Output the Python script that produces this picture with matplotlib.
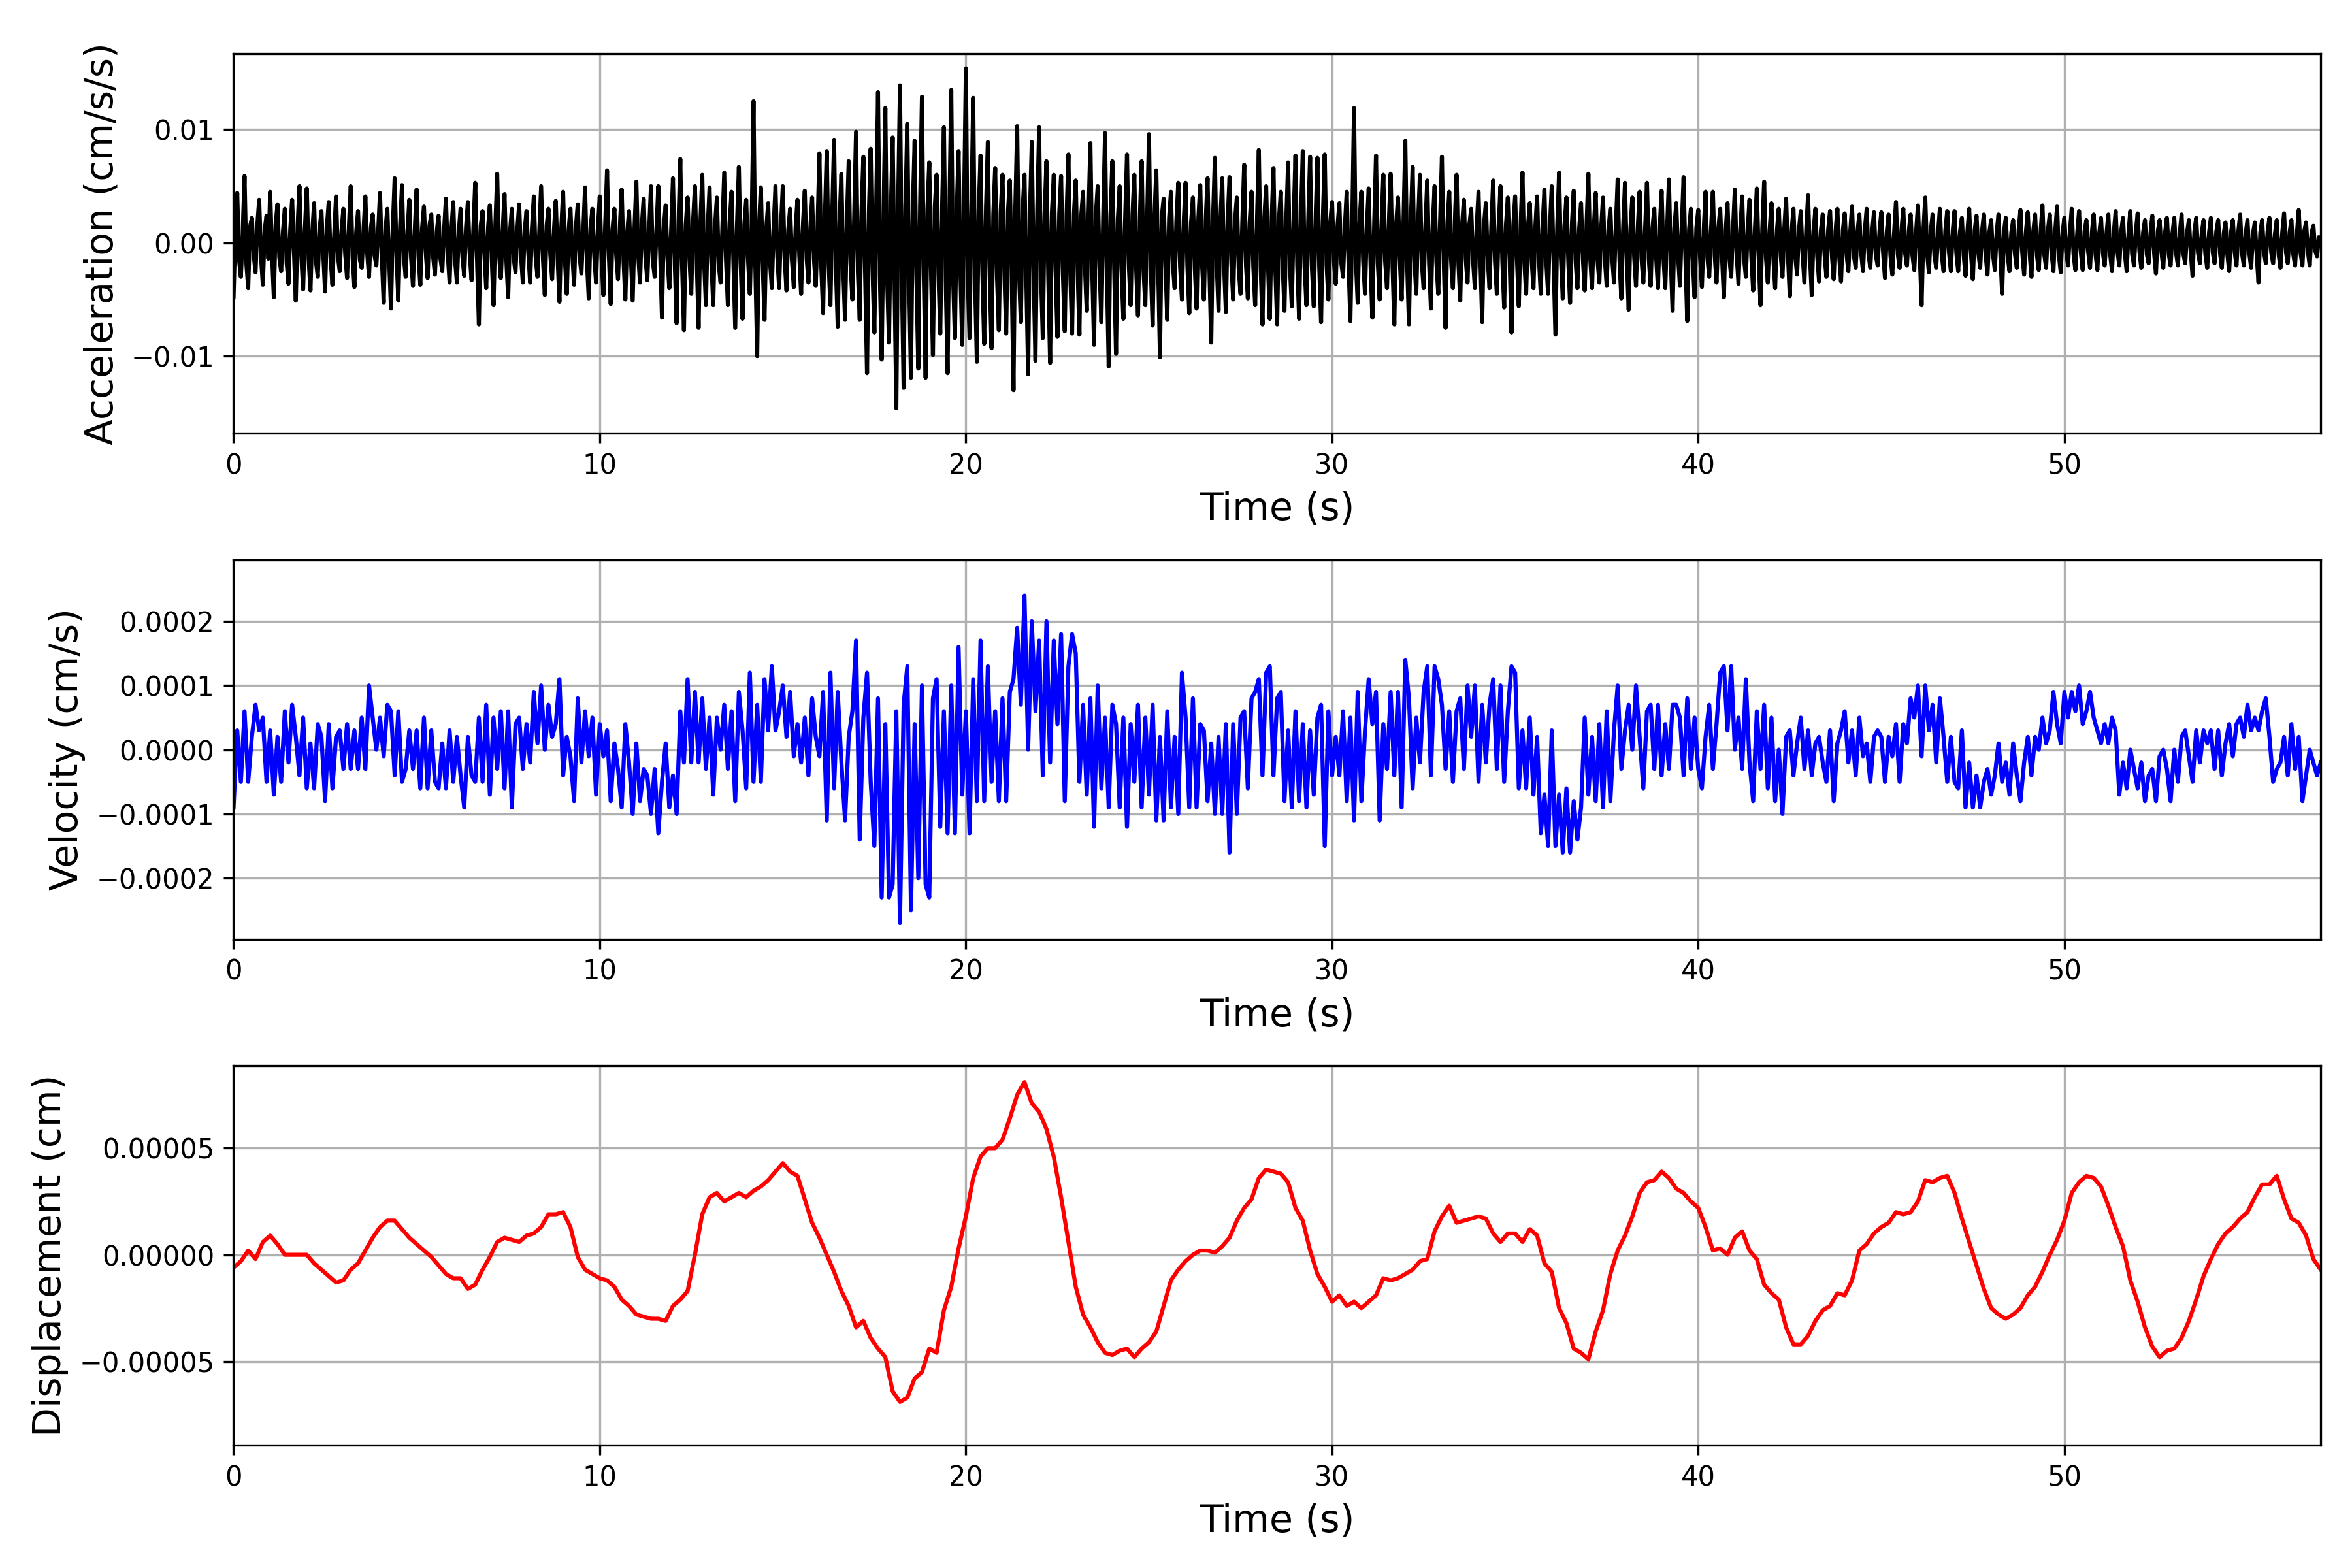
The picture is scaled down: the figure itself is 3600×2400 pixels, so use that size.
import matplotlib
matplotlib.use('Agg')
import matplotlib.pyplot as plt
import numpy as np

# sample spacing of the series (s)
dt_acc = 0.05
dt_vel = 0.1
dt_disp = 0.2

# acceleration, units of 1e-4 cm/s/s, one row per second
acc_e4 = [
    -48, 12, 44, -15, -30, 9, 59, -18, -40, 14, 22, -10, -26, 16, 38, -12, -37, 11, 24, -14,
    45, -9, -48, 16, 34, -13, -25, 10, 30, -17, -36, 12, 38, -8, -51, 15, 50, -11, -41, 13,
    48, -14, -42, 9, 35, -16, -30, 12, 28, -10, -43, 15, 36, -13, -37, 8, 41, -12, -25, 11,
    30, -10, -31, 14, 50, -12, -39, 9, 28, -15, -22, 11, 41, -9, -30, 13, 25, -11, -20, 10,
    44, -13, -53, 12, 30, -16, -58, 14, 57, -10, -51, 15, 51, -12, -30, 9, 38, -14, -38, 12,
    47, -11, -37, 13, 32, -9, -31, 15, 25, -12, -28, 10, 24, -14, -25, 11, 39, -10, -35, 12,
    36, -15, -35, 9, 30, -12, -29, 14, 36, -10, -33, 12, 53, -16, -72, 15, 28, -9, -40, 13,
    33, -12, -55, 14, 61, -10, -31, 11, 43, -15, -48, 9, 30, -13, -26, 12, 34, -11, -35, 10,
    28, -9, -35, 13, 41, -12, -30, 10, 50, -14, -46, 15, 30, -10, -32, 11, 37, -13, -52, 12,
    45, -15, -45, 11, 30, -9, -37, 14, 34, -12, -27, 10, 49, -16, -49, 13, 30, -11, -35, 12,
    41, -13, -46, 16, 64, -11, -54, 12, 30, -10, -32, 14, 47, -15, -50, 9, 28, -12, -51, 13,
    54, -10, -35, 15, 39, -13, -33, 11, 50, -16, -30, 12, 50, -9, -66, 14, 33, -13, -40, 10,
    57, -18, -71, 15, 74, -20, -77, 16, 40, -14, -45, 19, 50, -15, -75, 18, 60, -16, -55, 14,
    49, -17, -55, 15, 40, -19, -35, 14, 62, -16, -55, 18, 45, -15, -75, 17, 67, -19, -67, 16,
    38, -14, -45, 18, 125, -20, -100, 15, 49, -17, -68, 13, 35, -16, -40, 14, 50, -12, -40, 15,
    50, -14, -42, 12, 30, -15, -39, 13, 38, -11, -45, 16, 46, -13, -35, 12, 40, -14, -38, 15,
    79, -20, -62, 22, 81, -18, -55, 25, 91, -21, -74, 19, 61, -24, -68, 20, 72, -18, -50, 23,
    98, -25, -68, 28, 76, -30, -115, 26, 83, -24, -79, 31, 133, -28, -103, 25, 119, -32, -88, 27,
    93, -30, -146, 35, 139, -28, -128, 32, 105, -34, -119, 29, 90, -31, -111, 33, 129, -27, -119, 30,
    71, -29, -99, 31, 60, -26, -80, 30, 102, -33, -115, 28, 135, -30, -84, 27, 81, -25, -90, 32,
    154, -30, -84, 27, 128, -33, -105, 29, 77, -26, -89, 31, 89, -28, -93, 25, 66, -30, -77, 27,
    60, -24, -80, 28, 55, -27, -130, 30, 103, -25, -70, 29, 60, -31, -116, 26, 89, -28, -104, 30,
    102, -27, -84, 25, 72, -29, -106, 27, 60, -24, -83, 26, 59, -28, -78, 24, 78, -26, -80, 25,
    55, -22, -81, 24, 45, -20, -60, 26, 88, -23, -90, 25, 50, -21, -70, 22, 97, -26, -109, 24,
    72, -23, -98, 21, 50, -24, -67, 22, 78, -20, -55, 25, 60, -22, -64, 21, 72, -24, -55, 20,
    96, -22, -73, 24, 64, -21, -101, 23, 39, -19, -68, 22, 45, -18, -40, 20, 53, -21, -50, 19,
    53, -20, -62, 18, 40, -21, -58, 22, 51, -19, -50, 20, 57, -22, -88, 21, 75, -18, -60, 20,
    57, -19, -61, 21, 58, -18, -50, 20, 40, -22, -45, 19, 69, -20, -49, 18, 45, -21, -55, 20,
    82, -21, -72, 22, 50, -19, -67, 20, 66, -22, -72, 21, 45, -18, -60, 20, 71, -21, -56, 19,
    77, -20, -67, 22, 81, -21, -55, 19, 76, -22, -56, 20, 75, -21, -70, 22, 78, -19, -50, 18,
    36, -16, -36, 15, 35, -17, -30, 14, 45, -18, -69, 16, 119, -15, -53, 17, 45, -16, -45, 15,
    48, -17, -66, 16, 77, -18, -50, 15, 60, -16, -40, 17, 61, -18, -72, 16, 40, -15, -50, 17,
    90, -18, -72, 17, 67, -16, -45, 18, 60, -17, -40, 15, 55, -18, -58, 16, 50, -17, -45, 18,
    76, -16, -75, 17, 45, -15, -40, 16, 60, -17, -51, 15, 38, -14, -35, 16, 30, -15, -40, 14,
    45, -15, -70, 16, 35, -14, -40, 15, 55, -16, -45, 14, 50, -15, -57, 16, 40, -14, -79, 15,
    41, -14, -56, 15, 62, -16, -45, 14, 35, -15, -40, 13, 41, -14, -45, 15, 47, -16, -45, 14,
    50, -15, -81, 14, 62, -13, -49, 15, 40, -14, -53, 16, 46, -15, -40, 13, 35, -14, -42, 15,
    61, -13, -40, 14, 44, -15, -35, 13, 40, -14, -38, 12, 30, -13, -35, 14, 56, -15, -49, 13,
    53, -14, -59, 13, 40, -12, -38, 14, 45, -13, -35, 12, 53, -14, -38, 13, 30, -12, -40, 14,
    46, -13, -40, 12, 56, -14, -60, 13, 35, -12, -38, 14, 58, -13, -69, 12, 30, -14, -48, 13,
    29, -12, -39, 11, 45, -13, -30, 12, 45, -11, -35, 13, 30, -12, -48, 11, 35, -13, -30, 12,
    47, -11, -36, 12, 41, -13, -30, 11, 38, -12, -42, 13, 48, -11, -55, 12, 54, -13, -35, 11,
    35, -12, -40, 11, 30, -10, -30, 12, 39, -11, -47, 10, 30, -12, -28, 11, 28, -10, -35, 12,
    42, -11, -46, 10, 30, -12, -34, 11, 25, -10, -30, 12, 28, -11, -32, 10, 30, -12, -34, 11,
    26, -10, -25, 9, 32, -11, -22, 10, 25, -9, -25, 11, 30, -10, -22, 9, 27, -11, -20, 10,
    27, -9, -31, 10, 25, -11, -28, 9, 36, -10, -22, 11, 30, -9, -20, 10, 25, -11, -24, 9,
    33, -10, -55, 11, 40, -9, -26, 10, 25, -11, -22, 9, 30, -10, -25, 11, 28, -9, -25, 10,
    28, -9, -25, 10, 22, -11, -29, 9, 30, -10, -32, 11, 24, -9, -22, 10, 25, -11, -28, 9,
    20, -10, -24, 9, 25, -9, -45, 10, 22, -11, -25, 9, 20, -10, -22, 11, 29, -9, -28, 10,
    27, -9, -30, 10, 25, -11, -24, 9, 33, -10, -22, 11, 25, -9, -25, 10, 32, -11, -26, 9,
    22, -8, -20, 9, 30, -10, -24, 8, 28, -9, -24, 10, 20, -8, -22, 9, 25, -10, -24, 8,
    22, -9, -20, 8, 25, -10, -25, 9, 28, -8, -20, 10, 22, -9, -25, 8, 28, -10, -20, 9,
    26, -8, -22, 9, 20, -10, -18, 8, 24, -9, -27, 10, 20, -8, -22, 9, 22, -10, -20, 8,
    22, -9, -20, 8, 25, -10, -18, 9, 20, -8, -29, 10, 22, -9, -18, 8, 20, -10, -22, 9,
    22, -8, -18, 10, 20, -9, -22, 8, 18, -10, -25, 9, 20, -8, -20, 10, 25, -9, -20, 8,
    20, -9, -22, 8, 18, -10, -35, 9, 20, -8, -18, 10, 22, -9, -18, 8, 20, -10, -22, 9,
    26, -8, -18, 9, 20, -10, -20, 8, 29, -9, -20, 10, 18, -8, -20, 9, 15, -7, -12, 5,
    2,
]

# velocity, units of 1e-5 cm/s, one row per second
vel_e5 = [
    -9, 3, -5, 6, -5, 2, 7, 3, 5, -5,
    3, -7, 2, -5, 6, -2, 7, 2, -4, 5,
    -6, 1, -6, 4, 2, -8, 4, -6, 2, 3,
    -3, 4, -3, 3, -3, 5, -3, 10, 5, 0,
    5, -1, 7, 6, -4, 6, -5, -3, 3, -3,
    3, -6, 5, -6, 3, -5, -6, 1, -6, 3,
    -5, 2, -4, -9, 2, -4, -5, 5, -5, 7,
    -7, 5, -3, 6, -6, 6, -9, 4, 5, -3,
    4, -2, 9, 1, 10, 0, 7, 2, 4, 11,
    -4, 2, -1, -8, 8, -2, 6, -1, 5, -7,
    4, -1, 3, -8, 1, -3, -9, 4, -2, -10,
    1, -8, -3, -4, -10, -3, -13, -5, 1, -9,
    -4, -10, 6, -2, 11, -2, 9, -2, 8, -3,
    5, -7, 5, 0, 7, -3, 6, -8, 9, 3,
    -6, 12, -5, 7, -5, 11, 3, 13, 3, 6,
    10, 2, 9, -1, 4, -2, 5, -4, 8, 2,
    -1, 9, -11, 12, -6, 9, -2, -11, 2, 6,
    17, -14, 5, 12, -5, -15, 8, -23, 4, -23,
    -21, 6, -27, 7, 13, -25, 4, -20, 10, -21,
    -23, 8, 11, -12, 6, -13, 10, -13, 16, -7,
    6, -13, 11, -8, 17, -8, 13, -5, 6, -8,
    8, -8, 9, 11, 19, 7, 24, 0, 20, 6,
    17, -4, 20, -2, 17, 4, 18, -8, 13, 18,
    15, -5, 7, -7, 8, -12, 10, -6, 5, -9,
    7, 4, -9, 5, -12, 4, -5, 7, -9, 5,
    -7, 7, -11, 2, -11, 6, -9, 2, -10, 12,
    5, -9, 8, -9, 4, 3, -8, 1, -10, 2,
    -10, 4, -16, 4, -10, 5, 6, -6, 8, 9,
    11, -4, 12, 13, -4, 8, 9, -8, 3, -9,
    6, -8, 4, -9, 3, -7, 5, 7, -15, 6,
    -4, 2, -4, 6, -8, 5, -11, 9, -8, 3,
    11, 4, 9, -11, 4, -3, 9, -4, 9, -9,
    14, 8, -6, 5, -2, 9, 13, -4, 13, 11,
    7, -3, 6, -5, 6, 8, -3, 10, 2, 10,
    -5, 7, -2, 7, 11, -3, 10, -5, 6, 13,
    12, -6, 3, -6, 5, -7, 2, -13, -7, -15,
    3, -15, -7, -16, -6, -16, -8, -14, -9, 5,
    -7, 2, -8, 4, -9, 6, -8, 3, 10, -3,
    3, 7, 0, 10, 2, -6, 6, 7, -3, 7,
    -4, 4, -3, 7, 7, 5, -4, 8, -3, 5,
    -3, -6, 2, 7, -3, 4, 12, 13, 3, 13,
    0, 5, -3, 11, -2, -8, 6, -3, 7, -6,
    5, -8, 0, -10, 2, 3, -4, 1, 5, -3,
    3, -4, 1, 2, -2, -5, 3, -8, 1, 3,
    6, -2, 3, -4, 5, -1, 1, -5, 2, 3,
    2, -5, 2, -1, 4, -5, 4, 1, 8, 5,
    10, -1, 10, 3, 7, -2, 8, 2, -5, 2,
    -5, -6, 3, -9, -2, -9, -4, -9, -5, -3,
    -7, -4, 1, -5, -2, -7, 1, -4, -8, -2,
    2, -4, 2, 0, 5, 1, 3, 9, 4, 1,
    9, 5, 9, 6, 10, 4, 6, 9, 5, 3,
    1, 4, 1, 5, 3, -7, -2, -6, 0, -3,
    -6, -2, -8, -4, -3, -8, -1, 0, -3, -8,
    0, -5, 2, 3, -1, -5, 3, -2, 3, 1,
    3, -3, 3, -4, 1, 4, -1, 4, 5, 2,
    7, 3, 5, 3, 6, 8, 2, -5, -3, -2,
    2, -4, 4, -3, 2, -8, -4, 0, -2, -4,
    -2,
]

# displacement, units of 1e-6 cm, one row per 2 seconds
disp_e6 = [
    -6, -3, 2, -2, 6, 9, 5, 0, 0, 0,
    0, -4, -7, -10, -13, -12, -7, -4, 2, 8,
    13, 16, 16, 12, 8, 5, 2, -1, -5, -9,
    -11, -11, -16, -14, -7, -1, 6, 8, 7, 6,
    9, 10, 13, 19, 19, 20, 13, -1, -7, -9,
    -11, -12, -15, -21, -24, -28, -29, -30, -30, -31,
    -24, -21, -17, 0, 19, 27, 29, 25, 27, 29,
    27, 30, 32, 35, 39, 43, 39, 37, 26, 15,
    8, 0, -8, -17, -24, -34, -31, -39, -44, -48,
    -64, -69, -67, -58, -55, -44, -46, -26, -15, 3,
    18, 36, 46, 50, 50, 54, 64, 75, 81, 71,
    67, 59, 46, 27, 6, -15, -28, -34, -41, -46,
    -47, -45, -44, -48, -44, -41, -36, -24, -12, -7,
    -3, 0, 2, 2, 1, 4, 8, 16, 22, 26,
    36, 40, 39, 38, 34, 22, 16, 2, -9, -15,
    -22, -19, -24, -22, -25, -22, -19, -11, -12, -11,
    -9, -7, -3, -2, 11, 18, 23, 15, 16, 17,
    18, 17, 10, 6, 10, 10, 6, 12, 9, -4,
    -8, -25, -32, -44, -46, -49, -36, -26, -9, 2,
    9, 18, 29, 34, 35, 39, 36, 31, 29, 25,
    22, 13, 2, 3, 0, 8, 11, 2, -2, -14,
    -18, -21, -34, -42, -42, -38, -31, -26, -24, -18,
    -19, -12, 2, 5, 10, 13, 15, 20, 19, 20,
    25, 35, 34, 36, 37, 29, 17, 6, -5, -16,
    -25, -28, -30, -28, -25, -19, -15, -8, 0, 7,
    16, 29, 34, 37, 36, 32, 23, 13, 4, -12,
    -22, -34, -43, -48, -45, -44, -39, -31, -21, -10,
    -2, 5, 10, 13, 17, 20, 27, 33, 33, 37,
    26, 17, 15, 9, -2,
    -7,
]


def main():
    acc = np.array(acc_e4) * 1e-4
    vel = np.array(vel_e5) * 1e-5
    disp = np.array(disp_e6) * 1e-6
    t_acc = np.arange(len(acc)) * dt_acc
    t_vel = np.arange(len(vel)) * dt_vel
    t_disp = np.arange(len(disp)) * dt_disp

    fig, axes = plt.subplots(3, 1, figsize=(12, 8))
    fig.subplots_adjust(left=0.0993, right=0.9867, top=0.9658,
                        bottom=0.0783, hspace=0.333)

    series = [
        (t_acc, acc, 'k', 'Acceleration (cm/s/s)', (-0.0168, 0.0167),
         [-0.01, 0.0, 0.01]),
        (t_vel, vel, 'b', 'Velocity (cm/s)', (-0.000295, 0.000296),
         [-0.0002, -0.0001, 0.0, 0.0001, 0.0002]),
        (t_disp, disp, 'r', 'Displacement (cm)', (-0.0000893, 0.0000887),
         [-0.00005, 0.0, 0.00005]),
    ]
    for ax, (t, y, color, label, ylim, yticks) in zip(axes, series):
        ax.plot(t, y, color=color, linewidth=1.5)
        ax.set_xlim(0, 57.0)
        ax.set_ylim(*ylim)
        ax.set_yticks(yticks)
        ax.ticklabel_format(axis='y', style='plain', useOffset=False)
        ax.set_xlabel('Time (s)', fontsize=14)
        ax.set_ylabel(label, fontsize=14)
        ax.grid(True)

    fig.savefig('out.png', dpi=300)


if __name__ == '__main__':
    main()
